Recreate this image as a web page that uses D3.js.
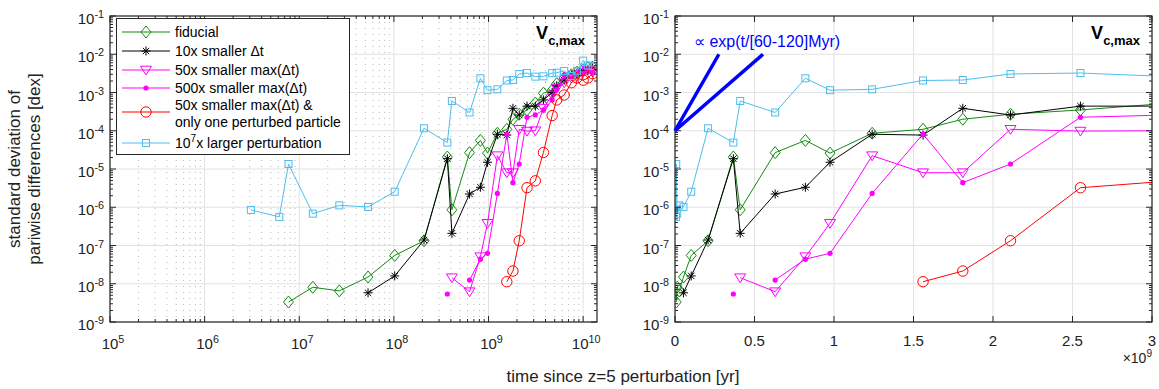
<!DOCTYPE html>
<html><head><meta charset="utf-8">
<script src="https://cdn.jsdelivr.net/npm/d3@7"></script>
<style>body{margin:0;background:#fff}svg{display:block}text{font-family:"Liberation Sans",Arial,sans-serif}</style>
</head><body>
<svg id="c" width="1159" height="389"></svg>
<script>
// ---------------- data ----------------
const times = [3.08e6, 6.15e6, 7.7e6, 1.39e7, 2.65e7, 5.33e7, 1.02e8, 2.08e8, 3.67e8, 4.1e8,
  6.3e8, 8.2e8, 9.75e8, 1.24e9, 1.56e9, 1.81e9, 2.11e9, 2.55e9, 3.12e9, 3.8e9,
  4.7e9, 5.25e9, 6.3e9, 7.5e9, 8.6e9, 1.0e10, 1.12e10, 1.26e10];
const fiducial = [null, null, 3.33e-9, 8.1e-9, 6.5e-9, 1.5e-8, 5.5e-8, 1.33e-7, 2.06e-5, 8.6e-7,
  2.67e-5, 5.6e-5, 2.6e-5, 8.6e-5, 1.09e-4, 2.0e-4, 2.7e-4, 3.5e-4, 5.3e-4, 9.6e-4,
  1.15e-3, 1.7e-3, 2.4e-3, 2.9e-3, 3.4e-3, 3.9e-3, 4.4e-3, 4.6e-3];
const smallerDt10 = [null, null, null, null, null, 5.8e-9, 1.6e-8, 1.39e-7, 1.86e-5, 2.08e-7,
  2.22e-6, 3.33e-6, 1.5e-5, 8.1e-5, 7.7e-5, 3.86e-4, 2.58e-4, 4.4e-4, 4.4e-4, 6.4e-4,
  1.0e-3, 1.5e-3, 2.1e-3, 2.9e-3, 3.2e-3, 3.6e-3, 3.9e-3, 4.4e-3];
const smallerMaxDt50 = [null, null, null, null, null, null, null, null, null, 1.44e-8,
  6.2e-9, 5.1e-8, 3.8e-7, 2.23e-5, 8.0e-6, 8.0e-6, 1.09e-4, 9.8e-5, 1.0e-4, 3.9e-4,
  8.6e-4, 1.3e-3, 1.8e-3, 2.4e-3, 2.7e-3, 3.4e-3, 3.9e-3, 3.4e-3];
const smallerMaxDt500 = [null, null, null, null, null, null, null, null, 5.4e-9, null,
  1.25e-8, 4.4e-8, 6.25e-8, 2.3e-6, 8.2e-5, 4.4e-6, 1.35e-5, 2.25e-4, 2.6e-4, 3.5e-4,
  6.4e-4, 1.2e-3, 2.9e-3, 2.7e-3, 3.4e-3, 3.2e-3, 3.9e-3, 3.4e-3];
const onePerturbed = [null, null, null, null, null, null, null, null, null, null,
  null, null, null, null, 1.13e-8, 2.15e-8, 1.33e-7, 3.24e-6, 4.9e-6, 2.7e-5,
  2.5e-4, 6.4e-4, 8.6e-4, 1.8e-3, 2.4e-3, 2.1e-3, 2.4e-3, 3.1e-3];
const largerPert = [8.5e-7, 5.6e-7, 1.35e-5, 6.8e-7, 1.12e-6, 1.02e-6, 2.55e-6, 1.16e-4, 4.9e-5, 6.0e-4,
  3.0e-4, 2.35e-3, 1.15e-3, 1.21e-3, 2.06e-3, 2.12e-3, 3.05e-3, 3.23e-3, 2.6e-3, 2.65e-3,
  3.2e-3, 3.3e-3, 3.65e-3, 2.7e-3, 3.7e-3, 6.8e-3, 5.1e-3, 4.9e-3];
const legendLabels = ["fiducial", "10x smaller \u0394t", "50x smaller max(\u0394t)", "500x smaller max(\u0394t)",
  ["50x smaller max(\u0394t) &", "only one perturbed particle"], "10^7x larger perturbation"];
const leftXTicks = [1e5, 1e6, 1e7, 1e8, 1e9, 1e10];
const yTicks = [1e-9, 1e-8, 1e-7, 1e-6, 1e-5, 1e-4, 1e-3, 1e-2, 1e-1];
const rightXTicks = [0, 0.5e9, 1e9, 1.5e9, 2e9, 2.5e9, 3e9];
const rightXTickLabels = ["0", "0.5", "1", "1.5", "2", "2.5", "3"];
// exp growth guide lines: start (t, value) and end (t, value)
const expGuides = [[0, 1e-4, 2.76e8, 1e-2], [0, 1e-4, 5.53e8, 1e-2]];

// ---------------- setup ----------------
const svg = d3.select("#c");
const yTop = 16, yBot = 322;
const y = d3.scaleLog().domain([1e-9, 1e-1]).range([yBot, yTop]);
const xL = d3.scaleLog().domain([1e5, 1.4e10]).range([110, 597]);
const xR = d3.scaleLinear().domain([0, 3e9]).range([675, 1152]);

const series = [
  {v: fiducial, color: "#138a13", m: "diamond"},
  {v: smallerDt10, color: "#000000", m: "star"},
  {v: smallerMaxDt50, color: "#ff00ff", m: "tri"},
  {v: smallerMaxDt500, color: "#ff00ff", m: "dot"},
  {v: onePerturbed, color: "#ff0000", m: "circle"},
  {v: largerPert, color: "#4dbeee", m: "square"}
];

function marker(g, type, color) {
  if (type === "diamond") g.append("path").attr("d", "M0,-6L5,0L0,6L-5,0Z").attr("fill", "none").attr("stroke", color).attr("stroke-width", 1);
  else if (type === "star") g.append("path").attr("d", "M-4.5,0H4.5M0,-4.5V4.5M-3.2,-3.2L3.2,3.2M-3.2,3.2L3.2,-3.2").attr("stroke", color).attr("stroke-width", 1);
  else if (type === "tri") g.append("path").attr("d", "M-5.5,-3.8L5.5,-3.8L0,5Z").attr("fill", "none").attr("stroke", color).attr("stroke-width", 1);
  else if (type === "dot") g.append("circle").attr("r", 2.6).attr("fill", color);
  else if (type === "circle") g.append("circle").attr("r", 5.2).attr("fill", "none").attr("stroke", color).attr("stroke-width", 1);
  else if (type === "square") g.append("rect").attr("x", -3.5).attr("y", -3.5).attr("width", 7).attr("height", 7).attr("fill", "none").attr("stroke", color).attr("stroke-width", 1);
}

function supLabel(g, x, yy, base, exp, anchor, size) {
  const t = g.append("text").attr("x", x).attr("y", yy).attr("text-anchor", anchor).attr("font-size", size).attr("fill", "#222");
  t.append("tspan").text(base);
  t.append("tspan").attr("dy", -6).attr("font-size", size * 0.72).text(exp);
  return t;
}

function panel(x, isLog, id) {
  const [x0, x1] = x.range();
  const g = svg.append("g");
  g.append("clipPath").attr("id", id).append("rect").attr("x", x0).attr("y", yTop).attr("width", x1 - x0).attr("height", yBot - yTop);
  const grid = g.append("g");
  if (isLog) {
    const minors = [];
    for (let e = 5; e <= 10; e++) for (let k = 2; k <= 9; k++) { const v = k * Math.pow(10, e); if (v < x.domain()[1]) minors.push(v); }
    grid.selectAll(".mx").data(minors).enter().append("line")
      .attr("x1", d => x(d)).attr("x2", d => x(d)).attr("y1", yTop).attr("y2", yBot)
      .attr("stroke", "#b8b8b8").attr("stroke-width", 1).attr("stroke-dasharray", "1,5");
    grid.selectAll(".gx").data(leftXTicks).enter().append("line")
      .attr("x1", d => x(d)).attr("x2", d => x(d)).attr("y1", yTop).attr("y2", yBot)
      .attr("stroke", "#e2e2e2").attr("stroke-width", 1);
  } else {
    grid.selectAll(".gx").data(rightXTicks).enter().append("line")
      .attr("x1", d => x(d)).attr("x2", d => x(d)).attr("y1", yTop).attr("y2", yBot)
      .attr("stroke", "#e2e2e2").attr("stroke-width", 1);
  }
  grid.selectAll(".gy").data(yTicks).enter().append("line")
    .attr("x1", x0).attr("x2", x1).attr("y1", d => y(d)).attr("y2", d => y(d))
    .attr("stroke", "#e2e2e2").attr("stroke-width", 1);

  const dg = g.append("g").attr("clip-path", `url(#${id})`);
  series.forEach(s => {
    const pts = times.map((t, i) => ({t, v: s.v[i]}));
    const line = d3.line().defined(d => d.v != null).x(d => x(d.t)).y(d => y(d.v));
    dg.append("path").attr("d", line(pts)).attr("fill", "none").attr("stroke", s.color).attr("stroke-width", 1);
    pts.filter(d => d.v != null).forEach(d => {
      const mg = dg.append("g").attr("transform", `translate(${x(d.t)},${y(d.v)})`);
      marker(mg, s.m, s.color);
    });
  });

  const tk = g.append("g").attr("stroke", "#262626").attr("stroke-width", 1);
  const yMinor = [];
  for (let e = -9; e < -1; e++) for (let k = 2; k <= 9; k++) yMinor.push(k * Math.pow(10, e));
  yMinor.forEach(v => {
    tk.append("line").attr("x1", x0).attr("x2", x0 + 3).attr("y1", y(v)).attr("y2", y(v));
    tk.append("line").attr("x1", x1).attr("x2", x1 - 3).attr("y1", y(v)).attr("y2", y(v));
  });
  yTicks.forEach(v => {
    tk.append("line").attr("x1", x0).attr("x2", x0 + 6).attr("y1", y(v)).attr("y2", y(v));
    tk.append("line").attr("x1", x1).attr("x2", x1 - 6).attr("y1", y(v)).attr("y2", y(v));
  });
  const xt = isLog ? leftXTicks : rightXTicks;
  xt.forEach(v => {
    tk.append("line").attr("x1", x(v)).attr("x2", x(v)).attr("y1", yBot).attr("y2", yBot - 6);
    tk.append("line").attr("x1", x(v)).attr("x2", x(v)).attr("y1", yTop).attr("y2", yTop + 6);
  });
  if (isLog) {
    for (let e = 5; e <= 10; e++) for (let k = 2; k <= 9; k++) {
      const v = k * Math.pow(10, e); if (v >= x.domain()[1]) continue;
      tk.append("line").attr("x1", x(v)).attr("x2", x(v)).attr("y1", yBot).attr("y2", yBot - 3);
      tk.append("line").attr("x1", x(v)).attr("x2", x(v)).attr("y1", yTop).attr("y2", yTop + 3);
    }
  }
  g.append("rect").attr("x", x0).attr("y", yTop).attr("width", x1 - x0).attr("height", yBot - yTop)
    .attr("fill", "none").attr("stroke", "#262626").attr("stroke-width", 1.2);

  yTicks.forEach(v => supLabel(g, x0 - 6, y(v) + 8, "10", String(Math.round(Math.log10(v))), "end", 15));
  if (isLog) {
    leftXTicks.forEach(v => supLabel(g, x(v) + 3, yBot + 27, "10", String(Math.round(Math.log10(v))), "middle", 15));
  } else {
    rightXTicks.forEach((v, i) => g.append("text").attr("x", x(v)).attr("y", yBot + 24).attr("text-anchor", "middle")
      .attr("font-size", 15).attr("fill", "#222").text(rightXTickLabels[i]));
  }
  const vt = g.append("text").attr("x", x1 - 12).attr("y", 39).attr("text-anchor", "end").attr("font-weight", "bold").attr("fill", "#000");
  vt.append("tspan").attr("font-size", 18).text("V");
  vt.append("tspan").attr("font-size", 13).attr("dy", 6).text("c,max");
  return g;
}

panel(xL, true, "clipL");
const gR = panel(xR, false, "clipR");

expGuides.forEach(e => {
  gR.append("line").attr("x1", xR(e[0])).attr("y1", y(e[1])).attr("x2", xR(e[2])).attr("y2", y(e[3]))
    .attr("stroke", "#0000ff").attr("stroke-width", 3.5).attr("stroke-linecap", "butt");
});
gR.append("text").attr("x", 694).attr("y", 47).attr("font-size", 16).attr("fill", "#0000ff").text("\u221d exp(t/[60-120]Myr)");

supLabel(svg, 1152, 363, "\u00d710", "9", "end", 14);

const lg = svg.append("g");
lg.append("rect").attr("x", 116.5).attr("y", 18.5).attr("width", 233).attr("height", 136).attr("fill", "#fff").attr("stroke", "#262626").attr("stroke-width", 1);
const rowsY = [32, 51, 70, 88, 112, 143];
series.forEach((s, i) => {
  lg.append("line").attr("x1", 122).attr("x2", 170).attr("y1", rowsY[i]).attr("y2", rowsY[i]).attr("stroke", s.color).attr("stroke-width", 1);
  marker(lg.append("g").attr("transform", `translate(146,${rowsY[i]})`), s.m, s.color);
  const lab = legendLabels[i];
  if (Array.isArray(lab)) {
    lg.append("text").attr("x", 175).attr("y", 110).attr("font-size", 14).attr("fill", "#000").text(lab[0]);
    lg.append("text").attr("x", 175).attr("y", 127).attr("font-size", 14).attr("fill", "#000").text(lab[1]);
  } else if (lab.indexOf("^7") >= 0) {
    const t = lg.append("text").attr("x", 175).attr("y", rowsY[i] + 5).attr("font-size", 14).attr("fill", "#000");
    t.append("tspan").text("10");
    t.append("tspan").attr("dy", -6).attr("font-size", 10).text("7");
    t.append("tspan").attr("dy", 6).text("x larger perturbation");
  } else {
    lg.append("text").attr("x", 175).attr("y", rowsY[i] + 5).attr("font-size", 14).attr("fill", "#000").text(lab);
  }
});

svg.append("text").attr("x", 623).attr("y", 382).attr("text-anchor", "middle").attr("font-size", 17).attr("fill", "#222")
  .text("time since z=5 perturbation [yr]");
const yl = svg.append("text").attr("transform", "translate(20,169) rotate(-90)").attr("text-anchor", "middle").attr("font-size", 17).attr("fill", "#222");
yl.append("tspan").attr("x", 0).attr("y", 0).text("standard deviation of");
yl.append("tspan").attr("x", 0).attr("y", 20).text("pariwise differences [dex]");
</script>
</body></html>
